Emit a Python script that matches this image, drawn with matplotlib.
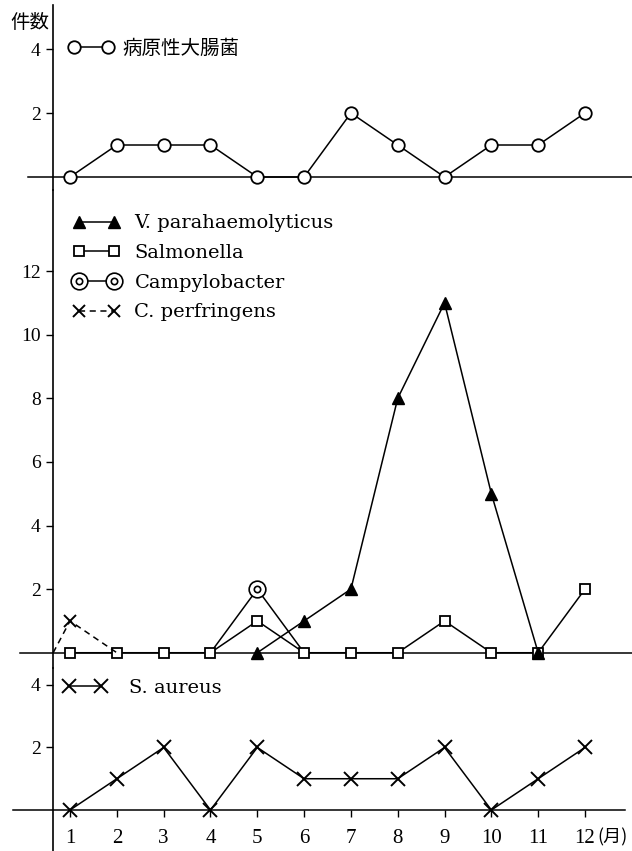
import numpy as np
import matplotlib.pyplot as plt
from matplotlib.path import Path

nan = np.nan
months = np.arange(1, 13)
month_labels = [str(m) for m in months]

# 病原性大腸菌
ecoli = [0, 1, 1, 1, 0, 0, 2, 1, 0, 1, 1, 2]
# middle panel
vibrio = [nan, nan, nan, nan, 0, 1, 2, 8, 11, 5, 0, nan]
salmonella = [0, 0, 0, 0, 1, 0, 0, 0, 1, 0, 0, 2]
campylo = [nan, nan, nan, 0, 2, 0, nan, nan, nan, nan, nan, nan]
perf_months = [0.64, 1, 2]   # line comes in from the previous December
perf = [0, 1, 0]
# bottom panel
aureus = [0, 1, 2, 0, 2, 1, 1, 1, 2, 0, 1, 2]

serif = 'Liberation Serif'
latin = 'DejaVu Serif'
cjk = ['Noto Sans CJK JP', 'DejaVu Sans']

W, H = 632, 851
fig = plt.figure(figsize=(W / 100, H / 100), dpi=100)


def box(top, bottom):
    return [0, (H - bottom) / H, 1, (bottom - top) / H]


ax1 = fig.add_axes(box(5, 190))
ax2 = fig.add_axes(box(190, 668), sharex=ax1)
ax3 = fig.add_axes(box(668, 851), sharex=ax1)

ax1.set_xlim(-0.496, 13.004)
ax1.set_ylim(-0.406, 5.375)
ax2.set_ylim(-0.48, 14.55)
ax3.set_ylim(-1.31, 4.54)

spine_x = 0.637
for ax in (ax1, ax2, ax3):
    ax.patch.set_visible(False)
    for s in ('top', 'right', 'bottom'):
        ax.spines[s].set_visible(False)
    ax.spines['left'].set_position(('data', spine_x))
    ax.spines['left'].set_linewidth(1.2)
    ax.tick_params(axis='y', direction='out', length=5, width=1, pad=4)
    ax.tick_params(axis='x', bottom=False, labelbottom=False)

ax1.set_yticks([2, 4])
ax2.set_yticks([2, 4, 6, 8, 10, 12])
ax3.set_yticks([2, 4])
for ax in (ax1, ax2, ax3):
    ax.set_yticklabels([str(int(v)) for v in ax.get_yticks()],
                       fontfamily=serif, fontsize=14)

ax1.axhline(0, xmin=0.044, xmax=1, color='k', lw=1.1)
ax2.axhline(0, xmin=0.032, xmax=1, color='k', lw=1.1)

# bottom axis line sits on zero
ax3.spines['bottom'].set_visible(True)
ax3.spines['bottom'].set_position(('data', 0))
ax3.spines['bottom'].set_bounds(-0.22, 12.86)
ax3.spines['bottom'].set_linewidth(1.1)
ax3.set_xticks(months)
ax3.set_xticklabels(month_labels, fontfamily=serif, fontsize=15)
ax3.tick_params(axis='x', bottom=True, labelbottom=True, direction='out',
                length=5, width=1, pad=9)
ax3.annotate('(月)', xy=(12, 0), xycoords='data', xytext=(9, -20),
             textcoords='offset points', ha='left', va='center',
             fontsize=13, family=cjk)

lw = 1.1
ring = Path.make_compound_path(Path.unit_circle(),
                               Path.circle((0, 0), radius=0.38))

# top panel
l_ecoli, = ax1.plot(months, ecoli, color='k', lw=lw, marker='o', ms=9,
                    mfc='white', mec='k', mew=1.3, label='病原性大腸菌')
ax1.legend(handles=[l_ecoli], loc='center left', bbox_to_anchor=(0.1076, 0.766),
           frameon=False, numpoints=2, borderpad=0, borderaxespad=0,
           handlelength=2.35, handletextpad=0.45, prop={'family': cjk, 'size': 14})

# middle panel
l_campy, = ax2.plot(months, campylo, color='k', lw=lw, marker=ring, ms=12,
                    mfc='white', mec='k', mew=1.2, markevery=[4], label='Campylobacter')
l_sal, = ax2.plot(months, salmonella, color='k', lw=lw, marker='s', ms=6.5,
                  mfc='white', mec='k', mew=1.3, label='Salmonella')
l_vib, = ax2.plot(months, vibrio, color='k', lw=lw, marker='^', ms=9,
                  mfc='k', mec='k', label='V. parahaemolyticus')
l_perf, = ax2.plot(perf_months, perf, color='k', lw=lw, ls=(0, (4, 3)), marker='x',
                   ms=9, mew=1.4, markevery=[1], label='C. perfringens')
ax2.legend(handles=[l_vib, l_sal, l_campy, l_perf], loc='upper left',
           bbox_to_anchor=(0.1155, 0.949), frameon=False, numpoints=2,
           borderpad=0, borderaxespad=0, handlelength=2.4, handletextpad=0.76,
           labelspacing=0.6, prop={'family': latin, 'size': 14})

# bottom panel
l_aur, = ax3.plot(months, aureus, color='k', lw=lw, marker='x', ms=10, mew=1.4,
                  label='S. aureus')
ax3.legend(handles=[l_aur], loc='center left', bbox_to_anchor=(0.1, 0.89),
           frameon=False, numpoints=2, borderpad=0, borderaxespad=0,
           handlelength=2.25, handletextpad=1.15, prop={'family': latin, 'size': 14})

fig.text(10 / W, 1 - 22 / H, '件数', family=cjk, fontsize=14, va='center', ha='left')

fig.savefig('out.png', dpi=100)
